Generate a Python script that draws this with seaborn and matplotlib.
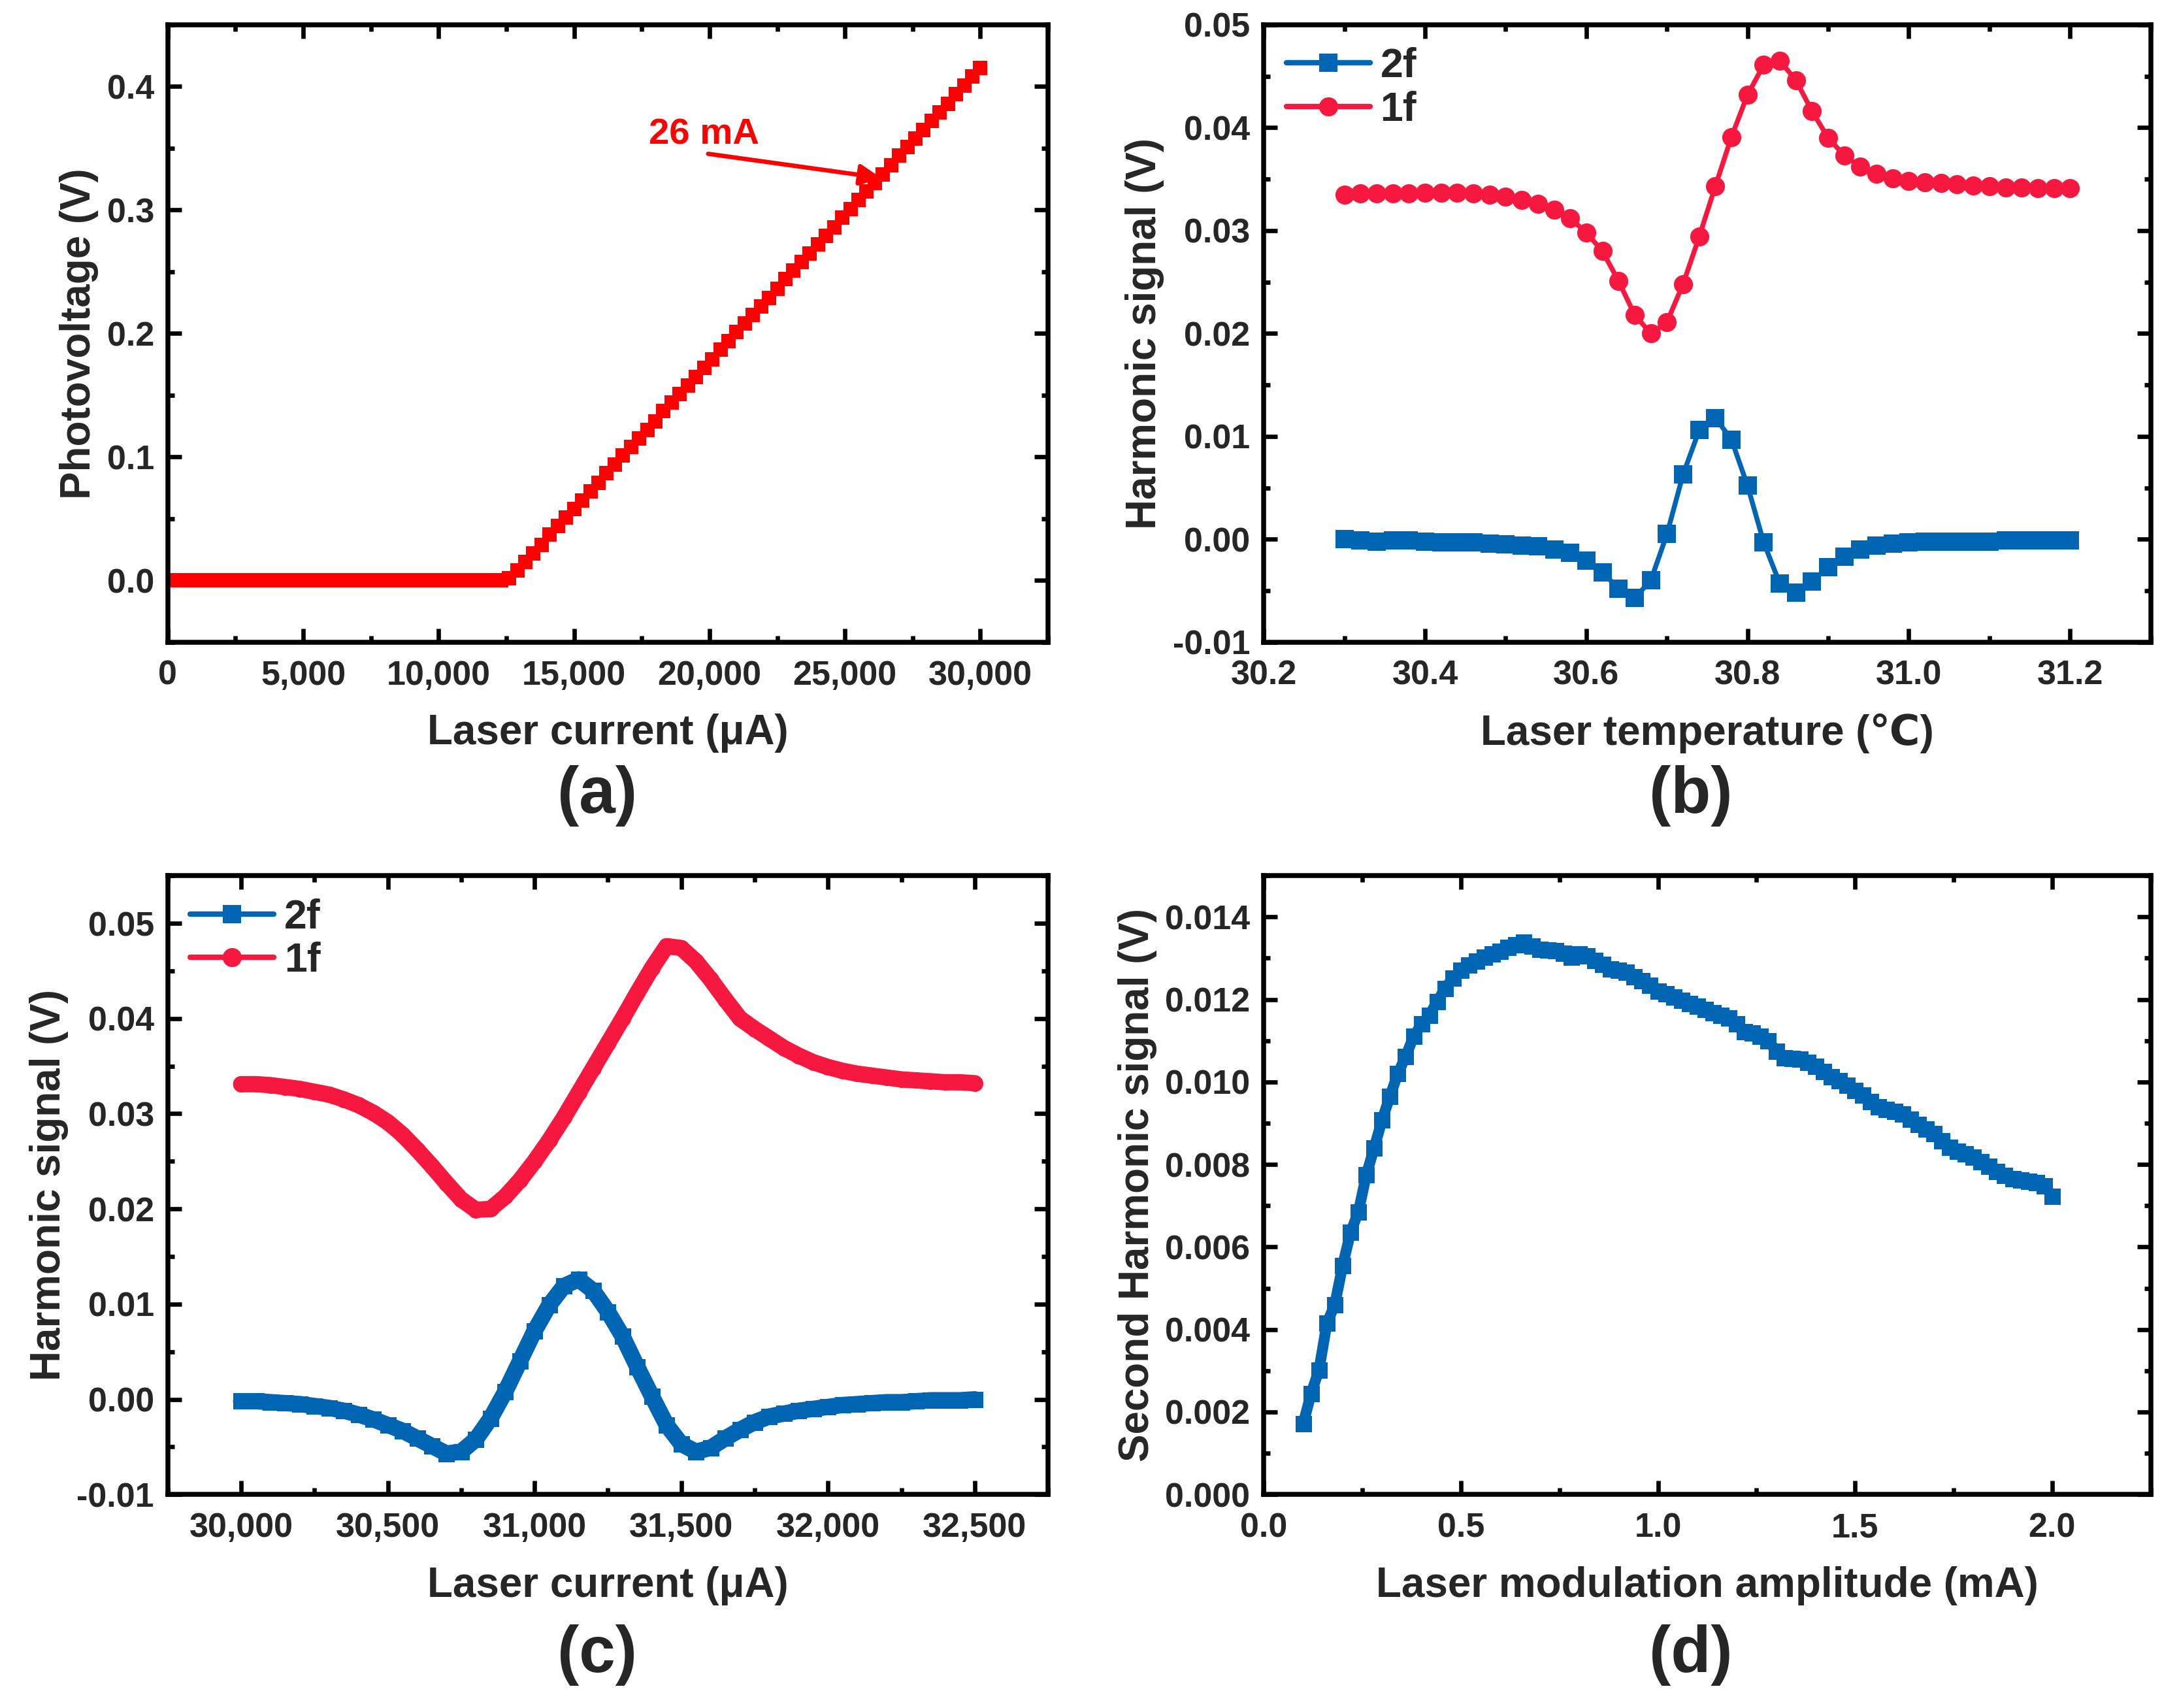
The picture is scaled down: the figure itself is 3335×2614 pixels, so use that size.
import numpy as np
import matplotlib
import seaborn as sns

matplotlib.use("Agg")
import matplotlib.pyplot as plt
from matplotlib.lines import Line2D
from matplotlib.ticker import MultipleLocator, AutoMinorLocator, FuncFormatter

# ---- (a) P-I curve ----
current_a = np.arange(0, 30001, 300)
photovoltage_a = [
    0.0, 0.0, 0.0, 0.0, 0.0, 0.0, 0.0, 0.0, 0.0, 0.0, 0.0, 0.0, 0.0, 0.0,
    0.0, 0.0, 0.0, 0.0, 0.0, 0.0, 0.0, 0.0, 0.0, 0.0, 0.0, 0.0, 0.0, 0.0,
    0.0, 0.0, 0.0, 0.0, 0.0, 0.0, 0.0, 0.0, 0.0, 0.0, 0.0, 0.0, 0.0, 0.0,
    0.002,
    0.008, 0.015, 0.022, 0.029, 0.037, 0.044, 0.051, 0.058, 0.065, 0.072,
    0.079, 0.087, 0.094, 0.101, 0.108, 0.115, 0.122, 0.129, 0.137, 0.144,
    0.151, 0.158, 0.165, 0.172, 0.179, 0.187, 0.194, 0.201, 0.208, 0.215,
    0.222, 0.229, 0.236, 0.244, 0.251, 0.258, 0.265, 0.272, 0.279, 0.286,
    0.294, 0.301, 0.308, 0.315, 0.322, 0.329, 0.336, 0.344, 0.351, 0.358,
    0.365, 0.372, 0.379, 0.386, 0.394, 0.401, 0.408, 0.415,
]

# ---- (b) temperature scan ----
temp_b = np.round(np.arange(30.30, 31.201, 0.02), 2)
h1f_b = [
    0.0335, 0.0336, 0.0336, 0.0336, 0.0336, 0.0337, 0.0337, 0.0337, 0.0336, 0.0335,
    0.0333, 0.0330, 0.0326, 0.0320, 0.0312, 0.0298, 0.0280, 0.0251, 0.0218, 0.0200,
    0.0211, 0.0248, 0.0294, 0.0343, 0.0391, 0.0432, 0.0461, 0.0465, 0.0446, 0.0416,
    0.0390, 0.0373, 0.0362, 0.0355, 0.0351, 0.0348, 0.0347, 0.0346, 0.0345, 0.0344,
    0.0343, 0.0342, 0.0342, 0.0341, 0.0341, 0.0341,
]
h2f_b = [
    0.0000, -0.0001, -0.0002, -0.0001, -0.0001, -0.0002, -0.0003, -0.0003, -0.0003, -0.0004,
    -0.0005, -0.0006, -0.0007, -0.0010, -0.0013, -0.0021, -0.0032, -0.0048, -0.0057, -0.0040,
    0.0005, 0.0063, 0.0106, 0.0118, 0.0097, 0.0052, -0.0003, -0.0043, -0.0052, -0.0041,
    -0.0027, -0.0017, -0.0010, -0.0006, -0.0004, -0.0003, -0.0002, -0.0002, -0.0002, -0.0002,
    -0.0002, -0.0001, -0.0001, -0.0001, -0.0001, -0.0001,
]

# ---- (c) current scan ----
current_c = np.arange(30000, 32501, 50)
h1f_c = [
    0.0331, 0.0331, 0.0330, 0.0328, 0.0326, 0.0323, 0.0320, 0.0315, 0.0309, 0.0301,
    0.0291, 0.0278, 0.0262, 0.0245, 0.0227, 0.0210, 0.0199, 0.0200, 0.0213, 0.0230,
    0.0250, 0.0272, 0.0296, 0.0322, 0.0348, 0.0374, 0.0400, 0.0427, 0.0453, 0.0476,
    0.0474, 0.0460, 0.0441, 0.0420, 0.0400, 0.0389, 0.0379, 0.0369, 0.0361, 0.0354,
    0.0349, 0.0345, 0.0342, 0.0340, 0.0338, 0.0336, 0.0335, 0.0334, 0.0333, 0.0333,
    0.0332,
]
h2f_c = [
    -0.0002, -0.0002, -0.0003, -0.0004, -0.0005, -0.0007, -0.0009, -0.0012, -0.0016, -0.0021,
    -0.0027, -0.0033, -0.0041, -0.0049, -0.0057, -0.0055, -0.0042, -0.0020, 0.0008, 0.0040,
    0.0072, 0.0099, 0.0119, 0.0126, 0.0114, 0.0092, 0.0066, 0.0034, 0.0003, -0.0027,
    -0.0047, -0.0055, -0.0051, -0.0041, -0.0032, -0.0024, -0.0018, -0.0015, -0.0012, -0.0010,
    -0.0008, -0.0006, -0.0005, -0.0004, -0.0003, -0.0003, -0.0002, -0.0001, -0.0001, -0.0001,
    0.0000,
]

# ---- (d) modulation amplitude ----
amp_d = np.linspace(0.10, 2.00, 96)
h2f_d = [
    1.72, 2.45, 3.02, 4.15, 4.60, 5.55, 6.35, 6.85, 7.75, 8.40,
    9.08, 9.65, 10.20, 10.62, 11.10, 11.40, 11.62, 11.95, 12.27, 12.52,
    12.70, 12.84, 12.93, 13.02, 13.10, 13.17, 13.26, 13.33, 13.38, 13.30,
    13.22, 13.20, 13.18, 13.12, 13.03, 13.10, 13.06, 12.95, 12.85, 12.74,
    12.70, 12.66, 12.55, 12.45, 12.35, 12.20, 12.13, 12.05, 11.98, 11.90,
    11.83, 11.75, 11.68, 11.62, 11.55, 11.40, 11.22, 11.18, 11.10, 11.00,
    10.75, 10.58, 10.57, 10.55, 10.47, 10.38, 10.25, 10.12, 10.03, 9.92,
    9.80, 9.68, 9.52, 9.40, 9.33, 9.29, 9.22, 9.10, 8.97, 8.86,
    8.74, 8.58, 8.42, 8.32, 8.25, 8.17, 8.07, 7.95, 7.83, 7.74,
    7.66, 7.62, 7.59, 7.56, 7.48, 7.23,
]
h2f_d = [v / 1000 for v in h2f_d]

BLUE = "#0066b3"
RED = "#f7183f"
PURE_RED = "#ff0000"

sns.set_theme(style="ticks")
plt.rcParams["font.family"] = ["Liberation Sans", "DejaVu Sans"]
plt.rcParams["font.weight"] = "bold"
plt.rcParams["axes.unicode_minus"] = False

FONT = ["Liberation Sans", "DejaVu Sans"]
TICK_FS = 12.5
LAB_FS = 15.3

fig = plt.figure(figsize=(3335 / 300, 2614 / 300), dpi=300)
ax_a = fig.add_axes([0.077, 0.624, 0.404, 0.3615])
ax_b = fig.add_axes([0.580, 0.624, 0.407, 0.3615])
ax_c = fig.add_axes([0.077, 0.125, 0.404, 0.3623])
ax_d = fig.add_axes([0.580, 0.125, 0.407, 0.3623])


def style_axes(ax, xmaj, ymaj, xfmt, yfmt):
    for sp in ax.spines.values():
        sp.set_visible(True)
        sp.set_linewidth(1.8)
        sp.set_color("black")
    ax.xaxis.set_major_locator(MultipleLocator(xmaj))
    ax.yaxis.set_major_locator(MultipleLocator(ymaj))
    ax.xaxis.set_minor_locator(AutoMinorLocator(2))
    ax.yaxis.set_minor_locator(AutoMinorLocator(2))
    ax.xaxis.set_major_formatter(FuncFormatter(xfmt))
    ax.yaxis.set_major_formatter(FuncFormatter(yfmt))
    ax.tick_params(which="both", direction="in", top=True, right=True,
                   width=1.6, color="black")
    ax.tick_params(which="major", length=5)
    ax.tick_params(which="minor", length=2.5)
    ax.tick_params(axis="x", which="major", pad=6.5)
    ax.tick_params(axis="y", which="major", pad=5)
    for lab in ax.get_xticklabels() + ax.get_yticklabels():
        lab.set_family(FONT)
        lab.set_fontsize(TICK_FS)
        lab.set_fontweight("bold")
    ax.grid(False)


def set_labels(ax, xlabel, ylabel):
    ax.set_xlabel(xlabel, family=FONT, fontsize=LAB_FS, fontweight="bold", labelpad=8)
    ax.set_ylabel(ylabel, family=FONT, fontsize=LAB_FS, fontweight="bold", labelpad=3)


comma = lambda v, p: f"{v:,.0f}"

# (a)
sns.lineplot(x=current_a, y=photovoltage_a, ax=ax_a, color=PURE_RED, marker="s",
             markersize=5.5, markeredgewidth=0, linewidth=1.5, legend=False,
             estimator=None, sort=False)
ax_a.set_xlim(0, 32500)
ax_a.set_ylim(-0.05, 0.45)
ax_a.annotate("", xy=(26330, 0.326), xytext=(19950, 0.3455),
              arrowprops=dict(arrowstyle="-|>", color=PURE_RED, lw=1.6,
                              mutation_scale=16, shrinkA=0, shrinkB=0))
ax_a.text(19800, 0.361, "26 mA", color=PURE_RED, fontsize=13.5, fontweight="bold",
          family=FONT, ha="center", va="center")
style_axes(ax_a, 5000, 0.1, comma, lambda v, p: f"{v:.1f}")
set_labels(ax_a, "Laser current (μA)", "Photovoltage (V)")

# (b)
sns.lineplot(x=temp_b, y=h2f_b, ax=ax_b, color=BLUE, marker="s", markersize=6.5,
             markeredgewidth=0, linewidth=1.8, legend=False, estimator=None, sort=False)
sns.lineplot(x=temp_b, y=h1f_b, ax=ax_b, color=RED, marker="o", markersize=7,
             markeredgewidth=0, linewidth=1.8, legend=False, estimator=None, sort=False)
ax_b.set_xlim(30.2, 31.3)
ax_b.set_ylim(-0.01, 0.05)
style_axes(ax_b, 0.2, 0.01, lambda v, p: f"{v:.1f}", lambda v, p: f"{v:.2f}")
set_labels(ax_b, "Laser temperature (℃)", "Harmonic signal (V)")

# (c)
sns.lineplot(x=current_c, y=h2f_c, ax=ax_c, color=BLUE, marker="s", markersize=6,
             markeredgewidth=0, linewidth=6, legend=False, estimator=None, sort=False)
sns.lineplot(x=current_c, y=h1f_c, ax=ax_c, color=RED, marker="o", markersize=6,
             markeredgewidth=0, linewidth=6, legend=False, estimator=None, sort=False)
ax_c.set_xlim(29750, 32750)
ax_c.set_ylim(-0.01, 0.055)
style_axes(ax_c, 500, 0.01, comma, lambda v, p: f"{v:.2f}")
set_labels(ax_c, "Laser current (μA)", "Harmonic signal (V)")

# (d)
sns.lineplot(x=amp_d, y=h2f_d, ax=ax_d, color=BLUE, marker="s", markersize=6,
             markeredgewidth=0, linewidth=4, legend=False, estimator=None, sort=False)
ax_d.set_xlim(0, 2.25)
ax_d.set_ylim(0, 0.015)
style_axes(ax_d, 0.5, 0.002, lambda v, p: f"{v:.1f}", lambda v, p: f"{v:.3f}")
set_labels(ax_d, "Laser modulation amplitude (mA)", "Second Harmonic signal (V)")

# legends for (b) and (c)
handles = [
    Line2D([], [], color=BLUE, marker="s", markersize=6.5, markeredgewidth=0, lw=2),
    Line2D([], [], color=RED, marker="o", markersize=7, markeredgewidth=0, lw=2),
]
for ax in (ax_b, ax_c):
    ax.legend(handles, ["2f", "1f"], loc="upper left", frameon=False,
              prop=dict(family=FONT, size=15, weight="bold"),
              handlelength=2.05, handletextpad=0.25, labelspacing=0.12,
              borderaxespad=0.35, borderpad=0.2)

# panel letters
for x, y, s in [(0.274, 0.534, "(a)"), (0.776, 0.534, "(b)"),
                (0.274, 0.031, "(c)"), (0.776, 0.031, "(d)")]:
    fig.text(x, y, s, ha="center", va="center", fontsize=24, fontweight="bold",
             family=FONT)

fig.savefig("out.png", dpi=300)
